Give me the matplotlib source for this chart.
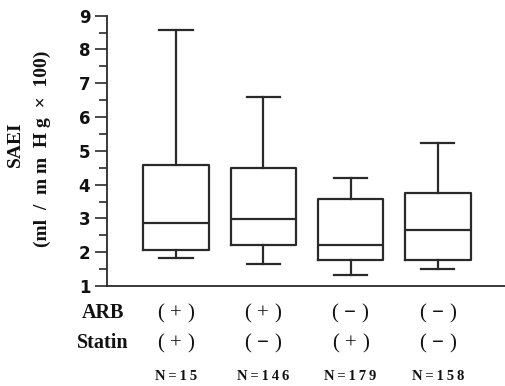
import matplotlib
matplotlib.use("Agg")
import matplotlib.pyplot as plt

plt.rcParams["mathtext.fontset"] = "custom"
plt.rcParams["mathtext.rm"] = "Liberation Serif"
plt.rcParams["mathtext.bf"] = "Liberation Serif:bold"

# ---- data ----
groups = ["G1", "G2", "G3", "G4"]
whislo = [1.84, 1.64, 1.33, 1.50]
q1 = [2.06, 2.21, 1.77, 1.77]
med = [2.87, 2.98, 2.21, 2.67]
q3 = [4.59, 4.48, 3.58, 3.76]
whishi = [8.57, 6.59, 4.21, 5.24]
arb = ["+", "+", "-", "-"]
statin = ["+", "-", "+", "-"]
n_labels = ["N=15", "N=146", "N=179", "N=158"]
yticks = [1, 2, 3, 4, 5, 6, 7, 8, 9]

W, H = 505, 386
fig = plt.figure(figsize=(W / 100, H / 100), dpi=100)
ax = fig.add_axes([107 / W, 1 - 286 / H, 1 - 107 / W, (286 - 15.7) / H])

col = "#2a2a2a"
txt = "#111111"
stats = []
for i in range(len(groups)):
    stats.append(dict(whislo=whislo[i], q1=q1[i], med=med[i], q3=q3[i],
                      whishi=whishi[i], fliers=[], label=groups[i]))
positions = list(range(1, len(groups) + 1))
ax.bxp(stats, positions=positions, widths=0.75, showfliers=False,
       boxprops=dict(color=col, linewidth=1.6),
       medianprops=dict(color=col, linewidth=1.6),
       whiskerprops=dict(color=col, linewidth=1.6),
       capprops=dict(color=col, linewidth=1.6),
       capwidths=0.38)

ax.set_ylim(1, 9)
ax.set_xlim(1 - 0.79, 4.77)
ax.set_yticks(yticks)
ax.set_yticks([y + 0.5 for y in yticks[:-1]], minor=True)
ax.set_xticks([])
for s in ["top", "right"]:
    ax.spines[s].set_visible(False)
for s in ["left", "bottom"]:
    ax.spines[s].set_color(col)
    ax.spines[s].set_linewidth(1.3)
ax.tick_params(axis="y", which="major", length=9, width=1.2, color=col, pad=3)
ax.tick_params(axis="y", which="minor", length=6, width=1.2, color=col)
for lab in ax.get_yticklabels():
    lab.set_fontfamily("DejaVu Sans")
    lab.set_fontweight("bold")
    lab.set_fontsize(12)
    lab.set_color(txt)

serif = "Liberation Serif"
# y label
fig.text(15 / W, 1 - 144 / H, "SAEI", rotation=90, ha="center", va="center",
         family=serif, weight="bold", fontsize=14, color=txt)
fig.text(42 / W, 1 - 148.5 / H, "(ml  /  m m  H g  \u00d7  100)", rotation=90,
         ha="center", va="center", family=serif, weight="bold", fontsize=14,
         color=txt)

# table beneath
row_y = [1 - 313 / H, 1 - 343 / H, 1 - 377 / H]
fig.text(103 / W, row_y[0], "ARB", ha="center", va="center", family=serif,
         weight="bold", fontsize=14.5, color=txt)
fig.text(103 / W, row_y[1], "Statin", ha="center", va="center", family=serif,
         weight="bold", fontsize=14.5, color=txt)


def sign_text(s):
    if s == "-":
        return r"$\mathrm{(}\;\mathbf{\u2212}\;\mathrm{)}$".replace(r"\u2212", "\u2212")
    return r"$\mathrm{(}\;\mathrm{+}\;\mathrm{)}$"


for i, p in enumerate(positions):
    xf = fig.transFigure.inverted().transform(ax.transData.transform((p, 1)))[0]
    fig.text(xf, row_y[0], sign_text(arb[i]), ha="center", va="center",
             fontsize=15, color=txt)
    fig.text(xf, row_y[1], sign_text(statin[i]), ha="center", va="center",
             fontsize=15, color=txt)
    fig.text(xf, row_y[2], "\u2009".join(n_labels[i]), ha="center",
             va="center", family=serif, weight="bold", fontsize=10.5,
             color=txt)

fig.savefig("out.png", dpi=100)
